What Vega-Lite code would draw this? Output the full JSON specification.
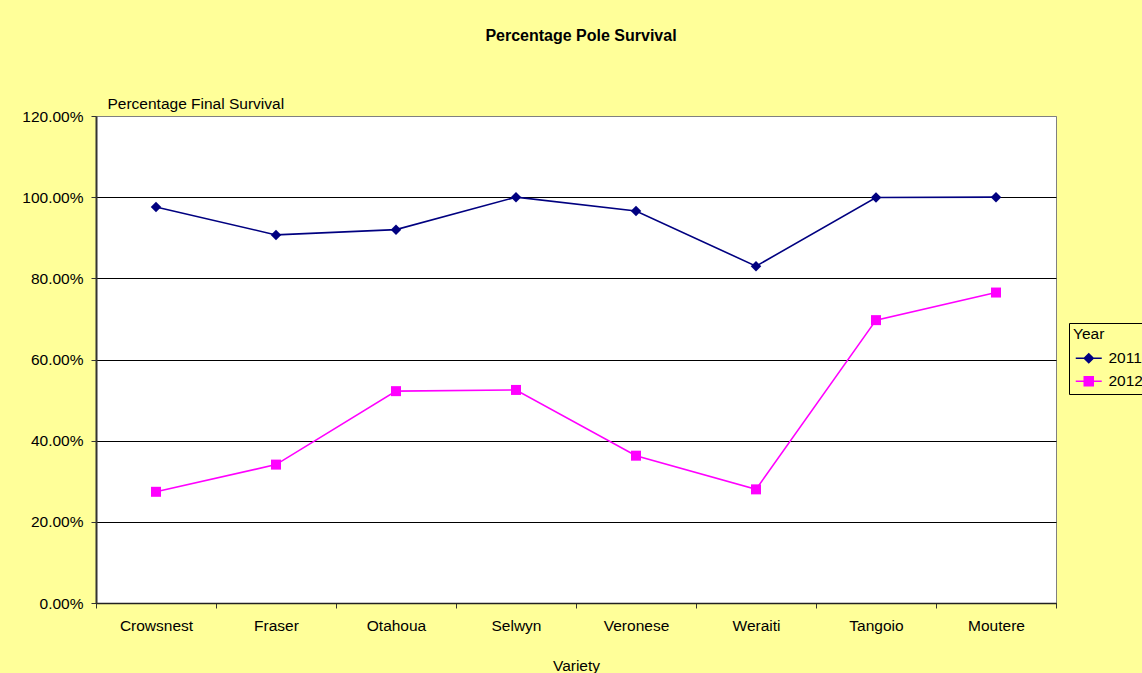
{
  "$schema": "https://vega.github.io/schema/vega-lite/v6.json",
  "width": 960,
  "height": 487,
  "autosize": {"type": "none"},
  "padding": {"left": 96, "top": 116, "right": 86, "bottom": 70},
  "background": "#FFFF99",
  "title": {
    "text": "Percentage Pole Survival",
    "font": "Liberation Sans",
    "fontSize": 16,
    "fontWeight": "bold",
    "color": "#000000",
    "anchor": "middle",
    "frame": "group",
    "dx": 5,
    "dy": -48
  },
  "config": {
    "view": {"fill": "#FFFFFF", "stroke": "#808080", "strokeWidth": 1},
    "font": "Liberation Sans"
  },
  "data": {
    "values": [
      {"Variety": "Crowsnest", "Year": "2011", "Survival": 0.976},
      {"Variety": "Fraser", "Year": "2011", "Survival": 0.907},
      {"Variety": "Otahoua", "Year": "2011", "Survival": 0.920},
      {"Variety": "Selwyn", "Year": "2011", "Survival": 1.000},
      {"Variety": "Veronese", "Year": "2011", "Survival": 0.966},
      {"Variety": "Weraiti", "Year": "2011", "Survival": 0.830},
      {"Variety": "Tangoio", "Year": "2011", "Survival": 0.999},
      {"Variety": "Moutere", "Year": "2011", "Survival": 1.000},
      {"Variety": "Crowsnest", "Year": "2012", "Survival": 0.274},
      {"Variety": "Fraser", "Year": "2012", "Survival": 0.341},
      {"Variety": "Otahoua", "Year": "2012", "Survival": 0.522},
      {"Variety": "Selwyn", "Year": "2012", "Survival": 0.525},
      {"Variety": "Veronese", "Year": "2012", "Survival": 0.363},
      {"Variety": "Weraiti", "Year": "2012", "Survival": 0.280},
      {"Variety": "Tangoio", "Year": "2012", "Survival": 0.697},
      {"Variety": "Moutere", "Year": "2012", "Survival": 0.765}
    ]
  },
  "encoding": {
    "x": {
      "field": "Variety",
      "type": "nominal",
      "sort": ["Crowsnest", "Fraser", "Otahoua", "Selwyn", "Veronese", "Weraiti", "Tangoio", "Moutere"],
      "scale": {"type": "band", "paddingInner": 0, "paddingOuter": 0},
      "axis": {
        "title": "Variety",
        "titleFont": "Liberation Sans",
        "titleFontSize": 15.5,
        "titleFontWeight": "normal",
        "titleColor": "#000000",
        "titleBaseline": "alphabetic",
        "titleX": 480,
        "titleY": 67,
        "labelAngle": 0,
        "labelFont": "Liberation Sans",
        "labelFontSize": 15.5,
        "labelColor": "#000000",
        "labelPadding": 10,
        "tickBand": "extent",
        "tickSize": 5,
        "tickColor": "#333333",
        "domainColor": "#222222",
        "domainWidth": 1.5,
        "grid": false
      }
    },
    "y": {
      "field": "Survival",
      "type": "quantitative",
      "scale": {"domain": [0, 1.2], "nice": false},
      "axis": {
        "title": "Percentage Final Survival",
        "titleAngle": 0,
        "titleAlign": "left",
        "titleBaseline": "alphabetic",
        "titleX": 11,
        "titleY": -8,
        "titleFont": "Liberation Sans",
        "titleFontSize": 15.5,
        "titleFontWeight": "normal",
        "titleColor": "#000000",
        "values": [0, 0.2, 0.4, 0.6, 0.8, 1.0, 1.2],
        "format": ".2%",
        "labelFont": "Liberation Sans",
        "labelFontSize": 15.5,
        "labelColor": "#000000",
        "labelPadding": 8,
        "tickSize": 5,
        "tickColor": "#333333",
        "domainColor": "#333333",
        "domainWidth": 2,
        "grid": true,
        "gridColor": {"condition": {"test": "datum.value >= 1.2", "value": "#808080"}, "value": "#000000"},
        "gridWidth": 1
      }
    }
  },
  "layer": [
    {
      "mark": {"type": "line", "strokeWidth": 1.6},
      "encoding": {
        "color": {
          "field": "Year",
          "type": "nominal",
          "scale": {"domain": ["2011", "2012"], "range": ["#000080", "#FF00FF"]},
          "legend": {
            "orient": "none",
            "legendX": 973,
            "legendY": 207,
            "title": "Year",
            "titleFont": "Liberation Sans",
            "titleFontSize": 15.5,
            "titleFontWeight": "normal",
            "titleColor": "#000000",
            "titlePadding": 8,
            "labelFont": "Liberation Sans",
            "labelFontSize": 15.5,
            "labelColor": "#000000",
            "labelOffset": 12,
            "rowPadding": 6,
            "strokeColor": "#000000",
            "padding": 4,
            "symbolSize": 100,
            "symbolStrokeWidth": 1.5,
            "symbolOffset": 8,
            "encode": {
              "symbols": {
                "update": {
                  "shape": {"signal": "datum.value === '2011' ? 'M-2.6,0H2.6M0,-0.9L0.9,0L0,0.9L-0.9,0Z' : 'M-2.6,0H2.6M-0.9,-0.9H0.9V0.9H-0.9Z'"},
                  "fill": {"signal": "datum.value === '2011' ? '#000080' : '#FF00FF'"},
                  "stroke": {"signal": "datum.value === '2011' ? '#000080' : '#FF00FF'"},
                  "fillOpacity": {"value": 1},
                  "opacity": {"value": 1}
                }
              }
            }
          }
        }
      }
    },
    {
      "transform": [{"filter": "datum.Year === '2011'"}],
      "mark": {"type": "point", "shape": "diamond", "filled": true, "opacity": 1, "size": 110},
      "encoding": {"color": {"field": "Year", "type": "nominal"}}
    },
    {
      "transform": [{"filter": "datum.Year === '2012'"}],
      "mark": {"type": "point", "shape": "square", "filled": true, "opacity": 1, "size": 100},
      "encoding": {"color": {"field": "Year", "type": "nominal"}}
    }
  ]
}
